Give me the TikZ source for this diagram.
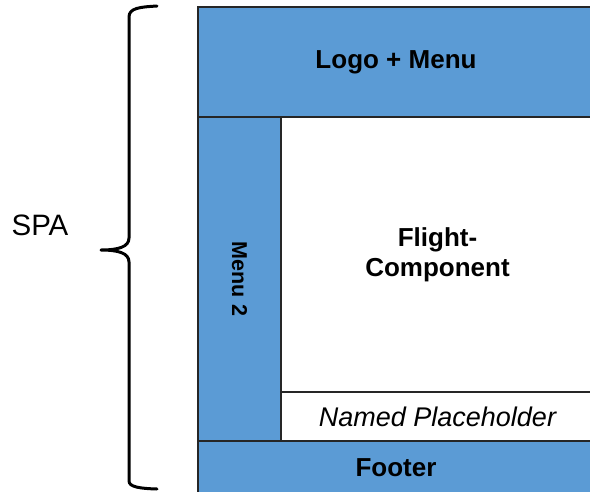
\documentclass[tikz,border=0pt]{standalone}
\usepackage{fontspec}
\setmainfont{Liberation Sans}
\definecolor{boxblue}{HTML}{5B9BD5}
\definecolor{edgegray}{HTML}{262626}
\begin{document}
\begin{tikzpicture}[x=1pt,y=-1pt,
  area/.style={draw=edgegray, line width=1.4pt, inner sep=0pt, align=center},
  bluearea/.style={area, fill=boxblue},
  whitearea/.style={area, fill=white},
  boldtxt/.style={font=\bfseries\fontsize{26}{30}\selectfont},
  ittxt/.style={font=\itshape\fontsize{27}{31}\selectfont},
  bracestyle/.style={line width=3pt, line cap=round, line join=round}]
\useasboundingbox (0,0) rectangle (590,491);
\clip (0,0) rectangle (590,491);
\node[bluearea, boldtxt, minimum width=396pt, minimum height=110pt] (top) at (396,62) {Logo + Menu};
\node[bluearea, minimum width=83pt, minimum height=324pt] (menu) at (239.5,279) {};
\node[boldtxt, font=\bfseries\fontsize{21.5}{25}\selectfont, rotate=-90] (menutxt) at (menu.center) {Menu 2};
\node[whitearea, boldtxt, minimum width=313pt, minimum height=275pt] (flight) at (437.5,254.5) {Flight-\\Component};
\node[whitearea, ittxt, minimum width=313pt, minimum height=49pt] (ph) at (437.5,416.5) {Named Placeholder};
\node[bluearea, boldtxt, minimum width=396pt, minimum height=53pt] (footer) at (396,467.5) {Footer};
\node[font=\fontsize{29.5}{34}\selectfont] (spa) at (40,225) {SPA};
\draw[bracestyle] (157,6) .. controls (140,7) and (129,8) .. (129,17)
  -- (129,238) .. controls (129,247) and (118,250) .. (101,250)
  .. controls (118,250) and (129,253) .. (129,262)
  -- (129,481) .. controls (129,487) and (140,488.5) .. (157,489);
\end{tikzpicture}
\end{document}
